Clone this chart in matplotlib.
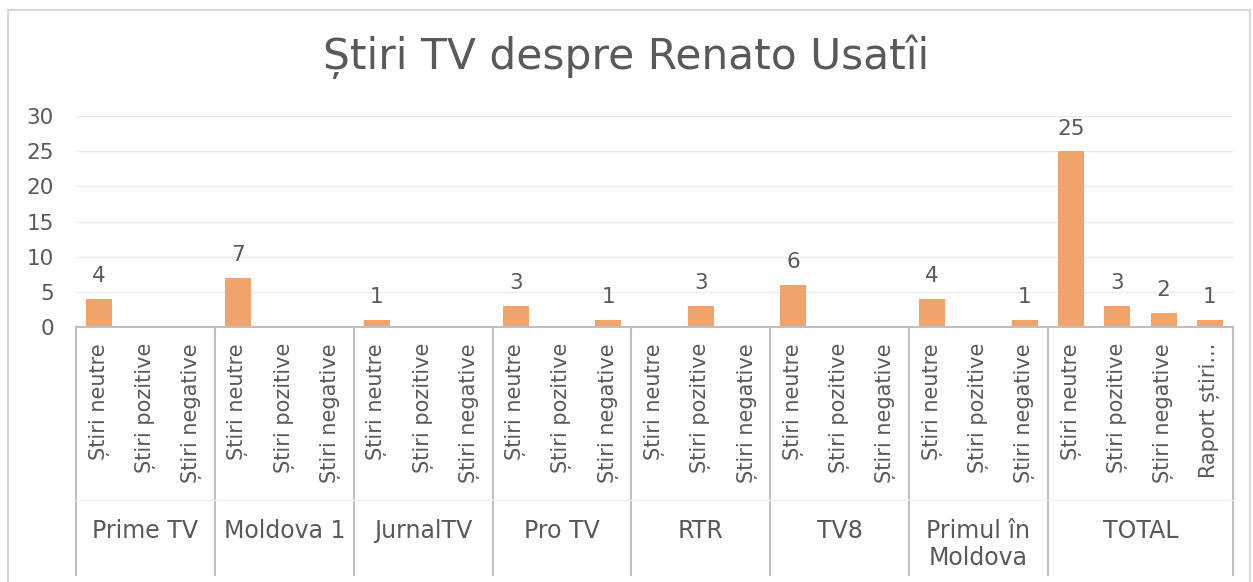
import matplotlib
matplotlib.use("Agg")
import matplotlib.pyplot as plt
from matplotlib.patches import Rectangle
from matplotlib.lines import Line2D
import matplotlib.transforms as mtransforms

plt.rcParams['font.family'] = ['DejaVu Sans']

title = "Știri TV despre Renato Usatîi"
groups = ["Prime TV", "Moldova 1", "JurnalTV", "Pro TV", "RTR", "TV8", "Primul în\nMoldova", "TOTAL"]
subcats = [
    ["Știri neutre", "Știri pozitive", "Știri negative"],
    ["Știri neutre", "Știri pozitive", "Știri negative"],
    ["Știri neutre", "Știri pozitive", "Știri negative"],
    ["Știri neutre", "Știri pozitive", "Știri negative"],
    ["Știri neutre", "Știri pozitive", "Știri negative"],
    ["Știri neutre", "Știri pozitive", "Știri negative"],
    ["Știri neutre", "Știri pozitive", "Știri negative"],
    ["Știri neutre", "Știri pozitive", "Știri negative", "Raport știri..."],
]
values = [
    [4, 0, 0],
    [7, 0, 0],
    [1, 0, 0],
    [3, 0, 1],
    [0, 3, 0],
    [6, 0, 0],
    [4, 0, 1],
    [25, 3, 2, 1],
]
yticks = [0, 5, 10, 15, 20, 25, 30]

W, H = 1253, 582
fig = plt.figure(figsize=(W / 100, H / 100), dpi=100)
ax = fig.add_axes([76 / W, 1 - 327 / H, (1233 - 76) / W, (327 - 116) / H])

bar_color = "#F0A46C"
text_color = "#595959"
line_color = "#BFBFBF"

flat_vals, flat_labels, bounds = [], [], [-0.5]
for sc, vs in zip(subcats, values):
    flat_labels += sc
    flat_vals += vs
    bounds.append(bounds[-1] + len(vs))
x = list(range(len(flat_vals)))

ax.bar(x, flat_vals, width=0.56, color=bar_color, zorder=3)
for xi, v in zip(x, flat_vals):
    if v:
        ax.annotate(str(v), (xi, v), xytext=(0, 9), textcoords="offset points",
                    ha="center", va="bottom", fontsize=15.5, color=text_color)

ax.set_xlim(-0.5, len(flat_vals) - 0.5)
ax.set_ylim(0, 30)
ax.set_yticks(yticks)
ax.tick_params(axis="y", length=0, labelsize=15.5, labelcolor=text_color, pad=16)
ax.set_xticks([])
ax.grid(axis="y", color="#EBEBEB", lw=1, zorder=0)
for s in ["top", "right", "left"]:
    ax.spines[s].set_visible(False)
ax.spines["bottom"].set_color(line_color)
ax.spines["bottom"].set_linewidth(1.5)
ax.spines["bottom"].set_zorder(4)

trans = mtransforms.blended_transform_factory(ax.transData, ax.transAxes)
ph = (327 - 116)
def ay(py):
    return (327 - py) / ph

for b in bounds:
    ax.add_line(Line2D([b, b], [0, ay(575)], transform=trans, color=line_color,
                       lw=1.5, clip_on=False))
ax.add_line(Line2D([-0.5, len(flat_vals) - 0.5], [ay(500), ay(500)], transform=trans,
                   color="#EDEDED", lw=1, clip_on=False))

for xi, lab in zip(x, flat_labels):
    ax.text(xi, ay(343), lab, transform=trans, rotation=90, ha="center", va="top",
            fontsize=15, color=text_color, clip_on=False)

for g, lo, hi in zip(groups, bounds[:-1], bounds[1:]):
    ax.text((lo + hi) / 2, ay(519), g, transform=trans, ha="center", va="top",
            fontsize=17, color=text_color, linespacing=1.15, clip_on=False)

fig.text(0.5, 1 - 57 / H, title, ha="center", va="center", fontsize=30.5, color=text_color)

fig.patches.append(Rectangle((8 / W, -0.1), (1250 - 8) / W, 1 - 10 / H + 0.1,
                             transform=fig.transFigure, fill=False, ec="#D9D9D9", lw=1.5))

fig.savefig("out.png", dpi=100)
